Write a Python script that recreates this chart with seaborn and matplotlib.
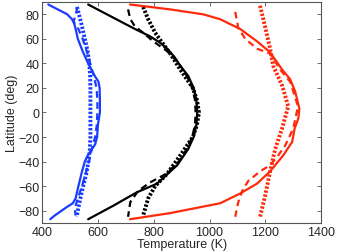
import matplotlib
matplotlib.use("Agg")
import matplotlib.pyplot as plt
import seaborn as sns
import pandas as pd

# latitude (deg) / temperature (K), one pair per curve
blue_solid_lat = [88, 80, 76, 73, 70, 60, 50, 40, 30, 25, 20, 10, 0, -10, -20, -26, -30, -36, -40, -48, -60, -70, -74, -77, -80, -84, -87]
blue_solid_T = [422, 490, 507, 514, 518, 528, 545, 565, 588, 602, 606, 607, 607, 600, 597, 590, 578, 561, 553, 543, 530, 520, 510, 489, 470, 445, 429]
blue_dash_lat = [86, 80, 74, 68, 60, 50, 40, 30, 20, 10, 0, -10, -20, -30, -40, -50, -60, -70, -78, -84]
blue_dash_T = [527, 520, 513, 530, 545, 560, 572, 585, 595, 598, 598, 596, 590, 578, 568, 556, 543, 528, 517, 520]
blue_dot_lat = [86, 80, 70, 60, 50, 40, 30, 20, 0, -20, -30, -40, -50, -60, -70, -80, -85]
blue_dot_T = [525, 532, 543, 553, 563, 569, 572, 573, 573, 573, 571, 566, 558, 547, 537, 528, 524]

black_solid_lat = [88, 80, 68, 62, 57, 52, 45, 38, 30, 20, 10, 0, -10, -20, -30, -43, -50, -58, -65, -76, -87]
black_solid_T = [565, 632, 733, 787, 822, 848, 875, 895, 923, 943, 953, 956, 953, 943, 923, 884, 850, 812, 740, 655, 565]
black_dash_lat = [84, 76, 70, 65, 58, 50, 40, 30, 20, 10, 0, -10, -20, -30, -40, -50, -57, -64, -73, -85]
black_dash_T = [708, 716, 733, 762, 798, 848, 890, 918, 938, 948, 950, 948, 938, 918, 890, 845, 787, 744, 716, 708]
black_dot_lat = [86, 76, 65, 57, 48, 35, 20, 10, 0, -10, -20, -35, -50, -60, -70, -84]
black_dot_T = [762, 780, 805, 830, 859, 895, 940, 955, 962, 955, 940, 895, 848, 805, 780, 762]

red_solid_lat = [88, 84, 80, 76, 68, 58, 49, 35, 27, 17, 3, -5, -13, -24, -35, -48, -58, -66, -74, -82, -87]
red_solid_T = [715, 859, 977, 1038, 1110, 1170, 1217, 1260, 1289, 1307, 1322, 1318, 1305, 1296, 1264, 1217, 1170, 1110, 1038, 859, 715]
red_dash_lat = [82, 69, 60, 52, 48, 35, 25, 5, -13, -27, -35, -43, -48, -56, -64, -73, -85]
red_dash_T = [1092, 1103, 1128, 1170, 1217, 1253, 1289, 1317, 1300, 1271, 1246, 1217, 1181, 1138, 1117, 1103, 1092]
red_dot_lat = [87, 70, 52, 38, 22, 5, -13, -30, -48, -68, -85]
red_dot_T = [1181, 1199, 1217, 1228, 1260, 1282, 1260, 1235, 1217, 1199, 1181]

sns.set_style("ticks")
plt.rcParams["font.family"] = ["Liberation Sans", "DejaVu Sans"]

BLUE = "#1a3cff"
RED = "#ff2a0a"
BLACK = "#000000"

SOLID = "-"
DASHED = (0, (3, 2))
DOTTED = (0, (0.6, 0.45))

curves = [
    (blue_solid_T, blue_solid_lat, BLUE, SOLID),
    (blue_dash_T, blue_dash_lat, BLUE, DASHED),
    (blue_dot_T, blue_dot_lat, BLUE, DOTTED),
    (black_solid_T, black_solid_lat, BLACK, SOLID),
    (black_dash_T, black_dash_lat, BLACK, DASHED),
    (black_dot_T, black_dot_lat, BLACK, DOTTED),
    (red_solid_T, red_solid_lat, RED, SOLID),
    (red_dash_T, red_dash_lat, RED, DASHED),
    (red_dot_T, red_dot_lat, RED, DOTTED),
]

fig = plt.figure(figsize=(3.37, 2.53), dpi=100)
ax = fig.add_axes([0.125, 0.115, 0.828, 0.873])

for T, lat, color, ls in curves:
    df = pd.DataFrame({"T": T, "lat": lat})
    lw = 2.8 if ls is DOTTED else 1.6
    sns.lineplot(data=df, x="T", y="lat", sort=False, estimator=None,
                 color=color, linewidth=lw, linestyle=ls, ax=ax)

ax.set_xlim(400, 1400)
ax.set_ylim(-90, 90)
ax.set_xticks([400, 600, 800, 1000, 1200, 1400])
ax.set_yticks(range(-80, 81, 20))
ax.set_yticklabels([str(v).replace("-", "\u2212") for v in range(-80, 81, 20)])
ax.set_xlabel("Temperature (K)", fontsize=9, labelpad=0)
ax.set_ylabel("Latitude (deg)", fontsize=9, labelpad=0)
ax.tick_params(direction="in", top=True, right=True, labelsize=9,
               length=3, width=0.6, color="#555555", pad=2)
for s in ax.spines.values():
    s.set_color("#555555")
    s.set_linewidth(0.8)

fig.savefig("out.png", dpi=100)
